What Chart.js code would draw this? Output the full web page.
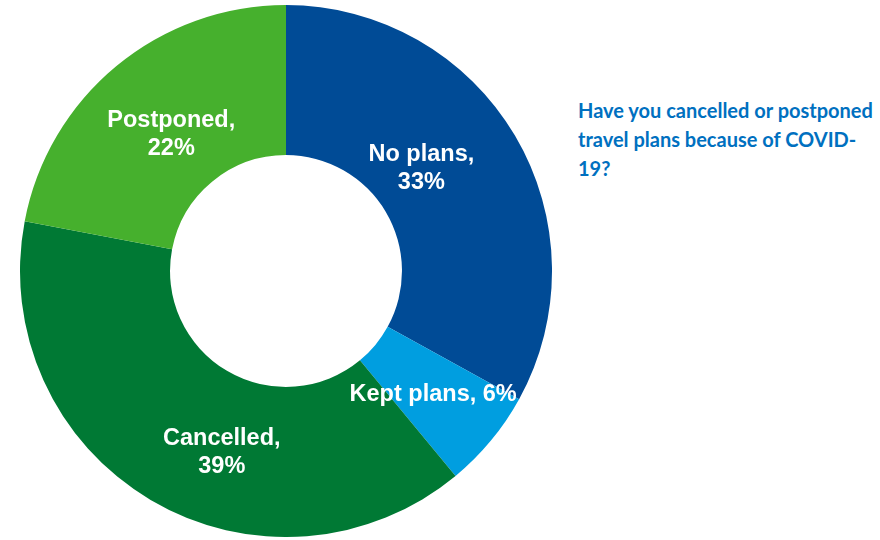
<!DOCTYPE html>
<html>
<head>
<meta charset="utf-8">
<script src="https://cdn.jsdelivr.net/npm/chart.js@4"></script>
<style>
  html, body { margin: 0; padding: 0; background: #fff; }
  body { width: 880px; height: 540px; position: relative; overflow: hidden; }
  #wrap { position: absolute; left: 20px; top: 5px; width: 532px; height: 532px; }
  #question {
    position: absolute; left: 578px; top: 96px;
    font-family: Lato, "Open Sans", sans-serif; font-weight: bold;
    font-size: 20px; line-height: 29px; color: #0070C0; white-space: nowrap;
  }
</style>
</head>
<body>
<div id="wrap"><canvas id="chart" width="532" height="532"></canvas></div>
<div id="question">Have you cancelled or postponed<br>travel plans because of COVID-<br>19?</div>
<script>
const categories = ['No plans', 'Kept plans', 'Cancelled', 'Postponed']
const shares = [33, 6, 39, 22]
const sliceColors = ['#004B96', '#009EE0', '#007934', '#46B02D']

// label text lines per slice, and nudges from each arc's centre point
const labelLines = [['No plans,', '33%'], ['Kept plans, 6%'], ['Cancelled,', '39%'], ['Postponed,', '22%']]
const labelNudge = [[-29, -5], [0, 2], [33, 17], [7, 11]]

const sliceLabels = {
    id: 'sliceLabels',
    afterDatasetsDraw(chart) {
        const ctx = chart.ctx
        const arcs = chart.getDatasetMeta(0).data
        ctx.save()
        ctx.fillStyle = '#fff'
        ctx.font = 'bold 23.5px "Liberation Sans", Arial, sans-serif'
        ctx.textAlign = 'center'
        ctx.textBaseline = 'middle'
        arcs.forEach((arc, i) => {
            const p = arc.getCenterPoint()
            const lines = labelLines[i]
            const lh = 28
            const y0 = p.y + labelNudge[i][1] - (lines.length - 1) * lh / 2
            lines.forEach((t, j) => ctx.fillText(t, p.x + labelNudge[i][0], y0 + j * lh))
        })
        ctx.restore()
    }
}

new Chart(document.getElementById('chart'), {
    type: 'doughnut',
    data: {
        labels: categories,
        datasets: [{ data: shares, backgroundColor: sliceColors, borderWidth: 0 }]
    },
    options: {
        responsive: false,
        animation: false,
        cutout: '43.6%',
        plugins: { legend: { display: false }, tooltip: { enabled: false } }
    },
    plugins: [sliceLabels]
})
</script>
</body>
</html>
